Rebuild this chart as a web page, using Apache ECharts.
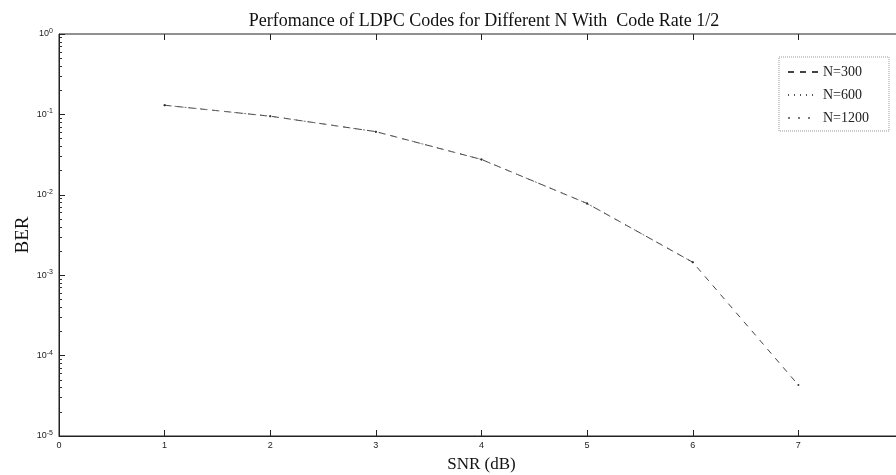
<!DOCTYPE html>
<html>
<head>
<meta charset="utf-8">
<script src="https://cdn.jsdelivr.net/npm/echarts@6/dist/echarts.min.js"></script>
<style>
html, body { margin: 0; padding: 0; background: #fff; }
#main { width: 896px; height: 475px; }
</style>
</head>
<body>
<div id="main"></div>
<script>
// values
var snr = [1, 2, 3, 4, 5, 6, 7];
var ber300 = [0.13, 0.095, 0.061, 0.0275, 0.0078, 0.00145, 0.000043];
var ber600 = [0.13, 0.095, 0.061, 0.0275, 0.0078, 0.00145];
var ber1200 = [0.13, 0.095, 0.061, 0.0275, 0.0078, 0.00145];
var xTicks = [0, 1, 2, 3, 4, 5, 6, 7, 8];

function pairs(ys) {
	return ys.map(function (y, i) { return [snr[i], y]; });
}

var myChart = echarts.init(document.getElementById('main'));

var serif = 'Liberation Serif';
var sans = 'Liberation Sans';

option = {
	backgroundColor: '#fff',
	animation: false,
	title: {
		text: 'Perfomance of LDPC Codes for Different N With  Code Rate 1/2',
		left: 479,
		textAlign: 'center',
		top: 7,
		textStyle: { fontFamily: serif, fontSize: 18, fontWeight: 'normal', color: '#111' }
	},
	legend: {
		orient: 'vertical',
		left: 779,
		top: 57,
		width: 109,
		padding: [8, 20, 6, 8],
		itemWidth: 30,
		itemHeight: 12,
		itemGap: 9,
		itemStyle: { opacity: 0 },
		backgroundColor: '#fff',
		borderColor: '#999',
		borderWidth: 1,
		borderType: 'dotted',
		textStyle: { fontFamily: serif, fontSize: 14, color: '#222' },
		data: ['N=300', 'N=600', 'N=1200']
	},
	grid: {
		left: 59,
		top: 34,
		width: 845,
		height: 402,
		outerBoundsMode: 'none',
		containLabel: false,
		show: true,
		borderColor: '#222',
		borderWidth: 1
	},
	xAxis: [{
		type: 'value',
		min: 0,
		max: 8,
		interval: 1,
		name: 'SNR (dB)',
		nameLocation: 'middle',
		nameGap: 20,
		nameTextStyle: { fontFamily: serif, fontSize: 17, color: '#111' },
		axisLine: { lineStyle: { color: '#222' } },
		axisTick: { inside: true, length: 6, lineStyle: { color: '#222' } },
		axisLabel: { fontFamily: sans, fontSize: 9, color: '#222', margin: 5,
			formatter: function (v) { return xTicks.indexOf(v) >= 0 ? String(v) : ''; } },
		splitLine: { show: false }
	}, {
		type: 'value',
		position: 'top',
		min: 0,
		max: 8,
		interval: 1,
		axisLine: { show: false },
		axisTick: { inside: true, length: 6, lineStyle: { color: '#222' } },
		axisLabel: { show: false },
		splitLine: { show: false }
	}],
	yAxis: {
		type: 'log',
		min: 1e-5,
		max: 1,
		logBase: 10,
		name: 'BER',
		nameLocation: 'middle',
		nameMoveOverlap: false,
		nameGap: 26,
		nameTextStyle: { fontFamily: serif, fontSize: 19, color: '#111' },
		axisLine: { lineStyle: { color: '#222' } },
		axisTick: { inside: true, length: 6, lineStyle: { color: '#222' } },
		minorTick: { show: true, splitNumber: 9, length: 3, lineStyle: { color: '#333' } },
		axisLabel: {
			fontFamily: sans, fontSize: 9, color: '#222', margin: 6,
			formatter: function (v) {
				var e = Math.round(Math.log10(v));
				return '10{s|' + e + '}';
			},
			rich: { s: { fontSize: 7, verticalAlign: 'top', padding: [0, 0, 6, 0], fontFamily: sans } }
		},
		splitLine: { show: false }
	},
	series: [{
		name: 'N=300',
		type: 'line',
		data: pairs(ber300),
		symbol: 'circle',
		symbolSize: 2,
		itemStyle: { color: '#333' },
		lineStyle: { color: '#444', width: 1, type: [6, 6] }
	}, {
		name: 'N=600',
		type: 'line',
		data: pairs(ber600),
		symbol: 'circle',
		symbolSize: 2,
		itemStyle: { color: '#333' },
		lineStyle: { color: '#555', width: 1, type: [1, 5] }
	}, {
		name: 'N=1200',
		type: 'line',
		data: pairs(ber1200),
		symbol: 'none',
		itemStyle: { color: '#666' },
		lineStyle: { color: '#777', width: 1, type: [2, 8] }
	}]
};

myChart.setOption(option);
</script>
</body>
</html>
